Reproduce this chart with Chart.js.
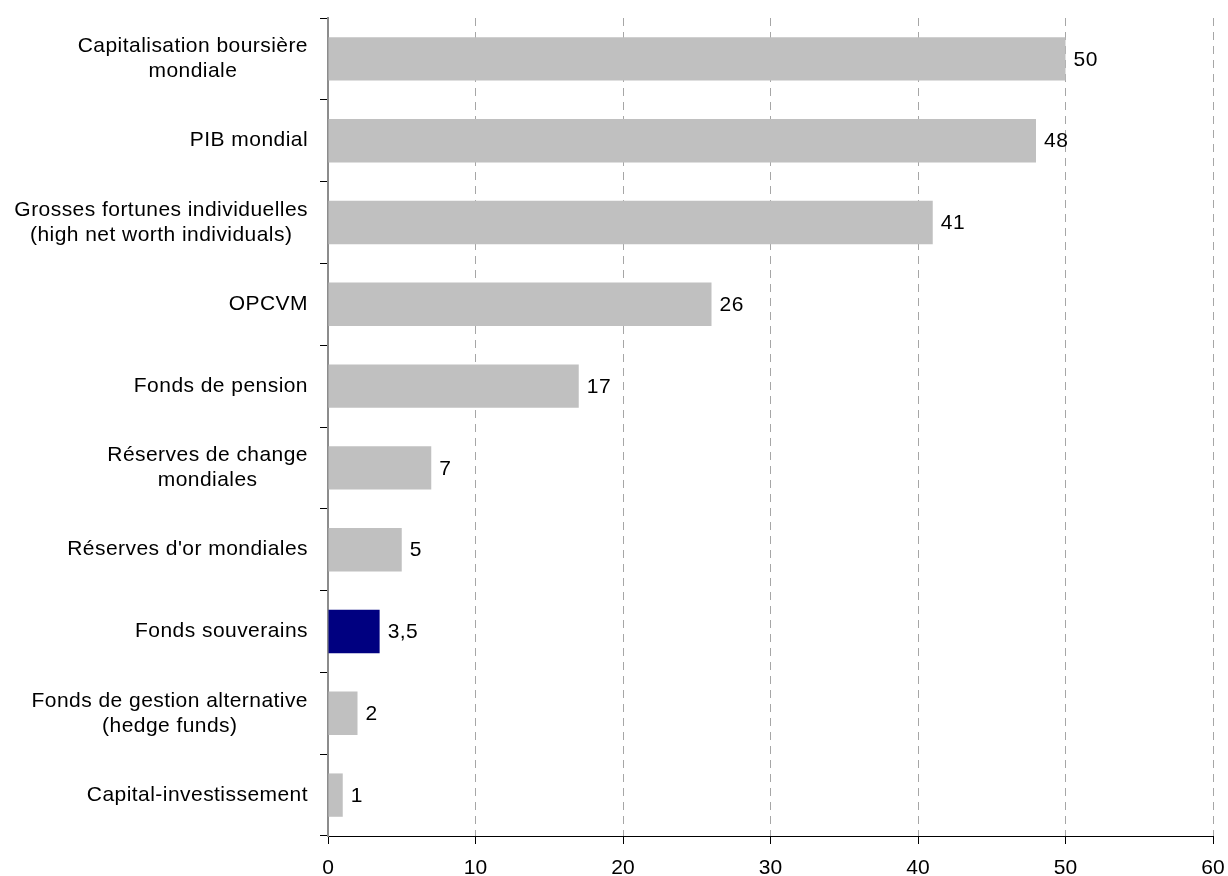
<!DOCTYPE html>
<html>
<head>
<meta charset="utf-8">
<script src="https://cdn.jsdelivr.net/npm/chart.js@4"></script>
<style>
  html, body { margin: 0; padding: 0; background: #fff; }
  #wrap { width: 1228px; height: 876px; }
</style>
</head>
<body>
<div id="wrap"><canvas id="chart" width="1228" height="876"></canvas></div>
<script>
var categories = [
  ['Capitalisation boursière', 'mondiale'],
  ['PIB mondial'],
  ['Grosses fortunes individuelles', '(high net worth individuals)'],
  ['OPCVM'],
  ['Fonds de pension'],
  ['Réserves de change', 'mondiales'],
  ["Réserves d'or mondiales"],
  ['Fonds souverains'],
  ['Fonds de gestion alternative', '(hedge funds)'],
  ['Capital-investissement']
];
var values = [50, 48, 41, 26, 17, 7, 5, 3.5, 2, 1];
var valueLabels = ['50', '48', '41', '26', '17', '7', '5', '3,5', '2', '1'];
var highlighted = 'Fonds souverains';
var xTicks = [0, 10, 20, 30, 40, 50, 60];

var FONT = '"Liberation Sans", Arial, sans-serif';
var FONT_SIZE = 21;

var barColors = categories.map(function(c) {
  return c[0] === highlighted ? '#000080' : '#c0c0c0';
});

// draws the category names (lines centred on each other, block right aligned)
// and the value next to each bar
var labelsPlugin = {
  id: 'labelsPlugin',
  afterDraw: function(chart) {
    var ctx = chart.ctx;
    var yScale = chart.scales.y;
    var meta = chart.getDatasetMeta(0);
    var lineH = 25;
    ctx.save();
    ctx.font = FONT_SIZE + 'px ' + FONT;
    ctx.letterSpacing = '0.45px';
    ctx.fillStyle = '#000';
    ctx.textBaseline = 'middle';
    ctx.textAlign = 'center';
    categories.forEach(function(lines, i) {
      var yc = yScale.getPixelForValue(i);
      var maxW = 0;
      lines.forEach(function(l) { maxW = Math.max(maxW, ctx.measureText(l).width); });
      var cx = yScale.right - 20 - maxW / 2;
      var y0 = yc - (lines.length - 1) * lineH / 2;
      lines.forEach(function(l, k) { ctx.fillText(l, cx, y0 + k * lineH); });
    });
    ctx.textAlign = 'left';
    meta.data.forEach(function(bar, i) {
      ctx.fillText(valueLabels[i], bar.x + 8, bar.y + 1);
    });
    ctx.letterSpacing = '0px';
    ctx.restore();
  }
};

new Chart(document.getElementById('chart').getContext('2d'), {
  type: 'bar',
  data: {
    labels: categories.map(function(c) { return c.join(' '); }),
    datasets: [{
      data: values,
      backgroundColor: barColors,
      borderWidth: 0,
      barPercentage: 0.53,
      categoryPercentage: 1
    }]
  },
  options: {
    indexAxis: 'y',
    responsive: false,
    animation: false,
    layout: { padding: { top: 18, right: 15, bottom: 0, left: 0 } },
    plugins: {
      legend: { display: false },
      tooltip: { enabled: false }
    },
    scales: {
      x: {
        min: 0,
        max: 60,
        afterFit: function(scale) {
          scale.height = 40;
          scale.paddingLeft = 0;
          scale.paddingRight = 0;
        },
        afterBuildTicks: function(scale) {
          scale.ticks = xTicks.map(function(v) { return { value: v }; });
        },
        ticks: {
          color: '#000',
          padding: 12,
          maxRotation: 0,
          font: { family: FONT, size: FONT_SIZE }
        },
        grid: {
          color: function(ctx) { return ctx.tick && ctx.tick.value === 0 ? 'rgba(0,0,0,0)' : '#a6a6a6'; },
          lineWidth: 1,
          tickColor: '#000',
          tickLength: 8
        },
        border: { color: '#000', width: 1, dash: [8, 6] }
      },
      y: {
        afterFit: function(scale) {
          scale.width = 328;
          scale.paddingTop = 0;
          scale.paddingBottom = 0;
        },
        ticks: { display: false },
        grid: {
          offset: true,
          drawOnChartArea: false,
          tickColor: '#000',
          tickLength: 8
        },
        border: { color: '#8c8c8c', width: 2 }
      }
    }
  },
  plugins: [labelsPlugin]
});
</script>
</body>
</html>
